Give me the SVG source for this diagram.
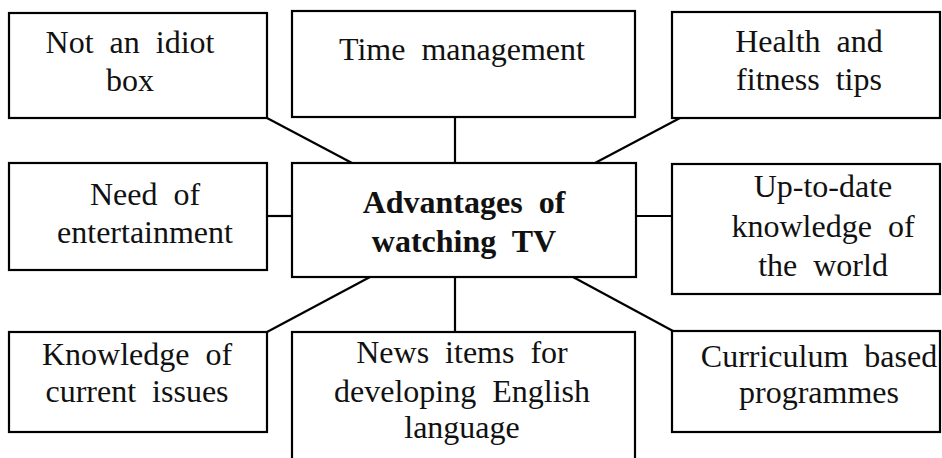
<svg xmlns="http://www.w3.org/2000/svg" width="942" height="458" viewBox="0 0 942 458">
<style>
.box{fill:#fff;stroke:#000;stroke-width:2.2}
.ln{stroke:#000;stroke-width:2.2;fill:none}
.t{font-size:32px;fill:#111;text-anchor:middle;word-spacing:8px}
.b{font-weight:bold}
</style>
<rect width="942" height="458" fill="#fff"/>
<g id="connectors">
<line class="ln" x1="267" y1="118" x2="352" y2="163"/>
<line class="ln" x1="455" y1="117" x2="455" y2="163"/>
<line class="ln" x1="680" y1="118" x2="595" y2="163"/>
<line class="ln" x1="267" y1="216" x2="292" y2="216"/>
<line class="ln" x1="636" y1="216" x2="672" y2="216"/>
<line class="ln" x1="267" y1="332" x2="370" y2="277"/>
<line class="ln" x1="455" y1="277" x2="455" y2="332"/>
<line class="ln" x1="573" y1="277" x2="673" y2="331"/>
</g>
<g class="t" font-family="Liberation Serif, Times New Roman, DejaVu Serif, serif">
<g id="n1"><rect class="box" x="9" y="13" width="258" height="105"/><text x="130" y="53">Not an idiot</text><text x="130" y="91">box</text></g>
<g id="n2"><rect class="box" x="292" y="11" width="343" height="106"/><text x="462" y="60">Time management</text></g>
<g id="n3"><rect class="box" x="672" y="12" width="268" height="106"/><text x="809" y="52">Health and</text><text x="809" y="90">fitness tips</text></g>
<g id="n4"><rect class="box" x="9" y="163" width="258" height="107"/><text x="145" y="205">Need of</text><text x="145" y="243">entertainment</text></g>
<g id="center"><rect class="box" x="292" y="163" width="344" height="114"/><text class="b" x="464" y="213">Advantages of</text><text class="b" x="464" y="252">watching TV</text></g>
<g id="n6"><rect class="box" x="672" y="164" width="268" height="130"/><text x="823" y="197">Up-to-date</text><text x="823" y="237">knowledge of</text><text x="823" y="276">the world</text></g>
<g id="n7"><rect class="box" x="9" y="332" width="258" height="100"/><text x="137" y="365">Knowledge of</text><text x="137" y="402">current issues</text></g>
<g id="n8"><rect class="box" x="292" y="332" width="343" height="140"/><text x="462" y="363">News items for</text><text x="462" y="402">developing English</text><text x="462" y="438">language</text></g>
<g id="n9"><rect class="box" x="672" y="331" width="268" height="101"/><text x="819" y="367">Curriculum based</text><text x="819" y="403">programmes</text></g>
</g>
</svg>
